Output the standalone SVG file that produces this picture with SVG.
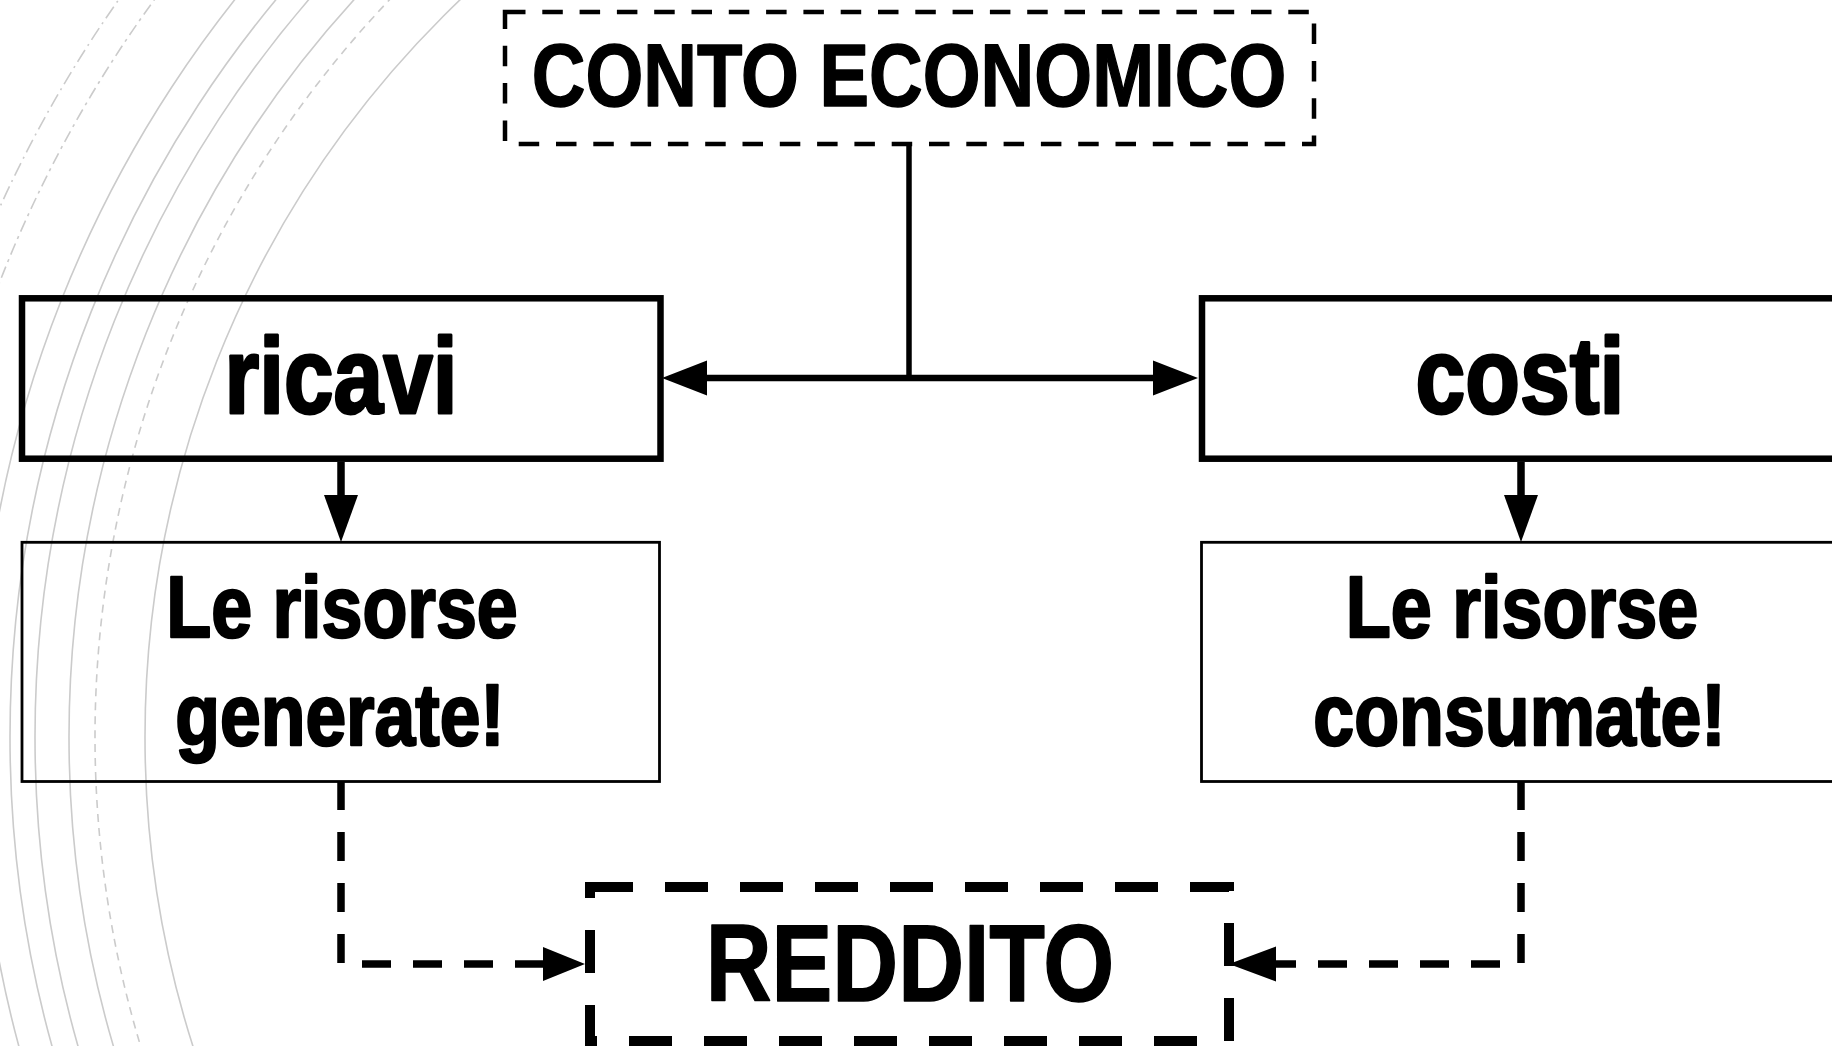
<svg xmlns="http://www.w3.org/2000/svg" width="1832" height="1046" viewBox="0 0 1832 1046">
  <style>
    .arc { fill: none; stroke: #cbcbcb; stroke-width: 1.6; }
    .arc-dash { stroke-dasharray: 8 6; }
    .arc-dd1 { stroke-dasharray: 14 5 2 5; }
    .arc-dd2 { stroke-dasharray: 12 5 3 5; }
    .box { fill: none; stroke: #000; }
    .lbl { font-family: 'Liberation Sans Narrow', 'Liberation Sans', Arial, sans-serif; font-weight: bold; fill: #000; stroke: #000; stroke-linejoin: round; text-anchor: middle; }
    .line { fill: none; stroke: #000; }
    .dline { fill: none; stroke: #000; stroke-width: 7.5; stroke-dasharray: 29 22; }
    .head { fill: #000; stroke: none; }
  </style>
  <rect width="1832" height="1046" fill="#ffffff"/>

  <g id="background-arcs">
    <circle class="arc arc-dd1" cx="1165" cy="737" r="1280"/>
    <circle class="arc arc-dd2" cx="1165" cy="737" r="1251"/>
    <circle class="arc" cx="1165" cy="737" r="1187"/>
    <circle class="arc" cx="1165" cy="737" r="1155"/>
    <circle class="arc" cx="1165" cy="737" r="1130"/>
    <circle class="arc" cx="1165" cy="737" r="1096"/>
    <circle class="arc arc-dash" cx="1165" cy="737" r="1070"/>
    <circle class="arc" cx="1165" cy="737" r="1020"/>
  </g>

  <g id="connectors">
    <line class="line" x1="909" y1="144" x2="909" y2="381" stroke-width="5.5"/>
    <line class="line" x1="680" y1="378" x2="1180" y2="378" stroke-width="6.5"/>
    <polygon class="head" points="662,378 707,360.5 707,395.5"/>
    <polygon class="head" points="1198,378 1153,360.5 1153,395.5"/>

    <line class="line" x1="341" y1="462" x2="341" y2="500" stroke-width="7.5"/>
    <polygon class="head" points="341,542 324,495 358,495"/>
    <line class="line" x1="1521" y1="462" x2="1521" y2="500" stroke-width="7.5"/>
    <polygon class="head" points="1521,542 1504,495 1538,495"/>

    <path class="dline" d="M341 781 V964 H543"/>
    <polygon class="head" points="585,964 543,947 543,981"/>
    <path class="dline" d="M1521 781 V964 H1276"/>
    <polygon class="head" points="1229,964 1276,946.5 1276,981.5"/>
  </g>

  <g id="node-conto-economico">
    <rect class="box" x="505" y="12" width="809" height="132" stroke-width="4.5" stroke-dasharray="20.5 16.8"/>
    <text class="lbl" x="909" y="105.7" font-size="88.7" stroke-width="1.5" textLength="754.5" lengthAdjust="spacingAndGlyphs">CONTO ECONOMICO</text>
  </g>

  <g id="node-ricavi">
    <rect class="box" x="22" y="298.3" width="638.5" height="160.4" stroke-width="6.5"/>
    <text class="lbl" x="341" y="412.5" font-size="107.5" stroke-width="3" textLength="233" lengthAdjust="spacingAndGlyphs">ricavi</text>
  </g>

  <g id="node-costi">
    <rect class="box" x="1202" y="298.3" width="638.5" height="160.4" stroke-width="6.5"/>
    <text class="lbl" x="1520" y="412.5" font-size="107.5" stroke-width="3" textLength="209" lengthAdjust="spacingAndGlyphs">costi</text>
  </g>

  <g id="node-risorse-generate">
    <rect class="box" x="22" y="542.3" width="637.5" height="239.2" stroke-width="2.8"/>
    <text class="lbl" x="342" y="637" font-size="87.3" stroke-width="2.5" textLength="351.5" lengthAdjust="spacingAndGlyphs">Le risorse</text>
    <text class="lbl" x="340" y="745.2" font-size="87.3" stroke-width="2.5" textLength="329.5" lengthAdjust="spacingAndGlyphs">generate!</text>
  </g>

  <g id="node-risorse-consumate">
    <rect class="box" x="1201.5" y="542.3" width="638" height="239.2" stroke-width="2.8"/>
    <text class="lbl" x="1522" y="637" font-size="87.3" stroke-width="2.5" textLength="352.5" lengthAdjust="spacingAndGlyphs">Le risorse</text>
    <text class="lbl" x="1519.5" y="745.2" font-size="87.3" stroke-width="2.5" textLength="412.5" lengthAdjust="spacingAndGlyphs">consumate!</text>
  </g>

  <g id="node-reddito">
    <rect class="box" x="590" y="887" width="639" height="154" stroke-width="10" stroke-dasharray="43 32"/>
    <text class="lbl" x="910" y="1001.2" font-size="109.6" stroke-width="1.5" textLength="408.5" lengthAdjust="spacingAndGlyphs">REDDITO</text>
  </g>
</svg>
